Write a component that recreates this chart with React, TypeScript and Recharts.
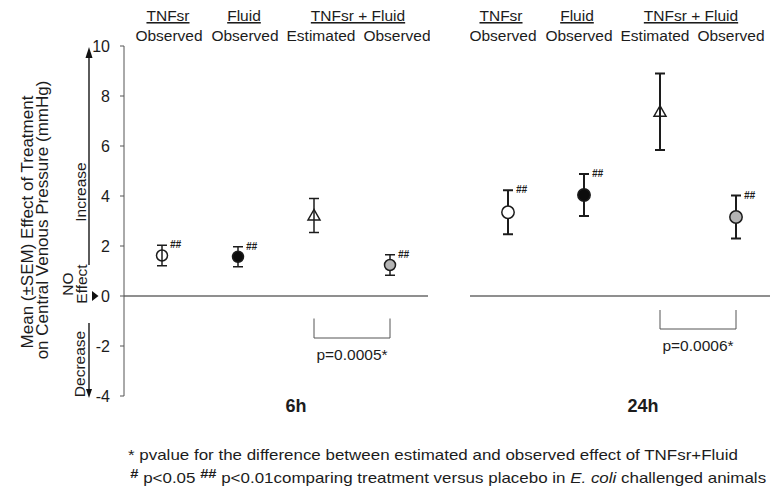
import React from 'react';
import { ComposedChart, Scatter, XAxis, YAxis, ErrorBar, ReferenceLine } from 'recharts';

// column labels under the group headings
const columns = ['Observed', 'Observed', 'Estimated', 'Observed'];
const headerLabels = ['TNFsr', 'Fluid', 'TNFsr + Fluid'];
const headerColumns = [[0], [1], [2, 3]];
const markerKinds = ['open', 'filled', 'triangle', 'grey'];
const significant = [true, true, false, true]; // ## p<0.01 vs placebo

// mean effect on CVP (mmHg) and SEM
const mean6h = [1.62, 1.57, 3.22, 1.24];
const sem6h = [0.41, 0.4, 0.68, 0.41];
const mean24h = [3.35, 4.04, 7.37, 3.16];
const sem24h = [0.88, 0.84, 1.53, 0.86];

const yTicks = [-4, -2, 0, 2, 4, 6, 8, 10];
const bracket6h = [-0.9, -1.68];
const bracket24h = [-0.56, -1.32];
const pValue6h = 'p=0.0005*';
const pValue24h = 'p=0.0006*';

const FONT = "'Liberation Sans', Arial, Helvetica, sans-serif";
const INK = '#1c1c1c';
const PLOT_W = 304;

const buildRows = (means: number[], sems: number[]) =>
  means.map((m, i) => ({ pos: i, mean: m, sem: sems[i], kind: markerKinds[i] }));

const buildSig = (means: number[], sems: number[]) =>
  means.map((m, i) => ({ pos: i, top: m + sems[i] })).filter((_, i) => significant[i]);

const headCenters = headerColumns.map((c) => c.reduce((a, b) => a + b, 0) / c.length);

const markerShape = (r: number, openFill: string) => (props: any) => {
  const { cx, cy, payload } = props;
  if (cx == null || cy == null) return <g />;
  if (payload.kind === 'triangle') {
    const pts = `${cx},${cy - 6} ${cx - 6},${cy + 4.5} ${cx + 6},${cy + 4.5}`;
    return <polygon points={pts} fill="none" stroke={INK} strokeWidth={1.5} />;
  }
  const fill = payload.kind === 'filled' ? '#0d0d0d' : payload.kind === 'grey' ? '#b4b4b4' : openFill;
  return <circle cx={cx} cy={cy} r={r} fill={fill} stroke={INK} strokeWidth={1.5} />;
};

const sigShape = (props: any) => {
  const { cx, cy } = props;
  if (cx == null || cy == null) return <g />;
  return (
    <text x={cx + 8} y={cy + 3} fontSize={10} fontWeight="bold" fontStyle="italic" fill={INK} fontFamily={FONT}>
      ##
    </text>
  );
};

const columnTick = (dx: number, headDx: number) => (p: any) => {
  const i = p.payload.value;
  const band = PLOT_W / columns.length;
  const h = headerColumns.findIndex((c) => c[0] === i);
  return (
    <g fontFamily={FONT} fontSize={15.5} fill={INK}>
      {h >= 0 && (
        <text x={p.x + headDx + (headCenters[h] - i) * band} y={21} textAnchor="middle" textDecoration="underline">
          {headerLabels[h]}
        </text>
      )}
      <text x={p.x + dx} y={41} textAnchor="middle">
        {columns[i]}
      </text>
    </g>
  );
};

type PanelProps = {
  means: number[];
  sems: number[];
  bracket: number[];
  pValue: string;
  showAxis: boolean;
  dx: number;
  headDx: number;
  barWidth: number;
  radius: number;
  openFill: string;
};

const Panel = ({ means, sems, bracket, pValue, showAxis, dx, headDx, barWidth, radius, openFill }: PanelProps) => {
  const rows = buildRows(means, sems);
  const sig = buildSig(means, sems);
  const axisW = showAxis ? 124 : 0;
  return (
    <ComposedChart
      width={PLOT_W + axisW + (showAxis ? 2 : 0)}
      height={420}
      margin={{ top: 0, right: showAxis ? 2 : 0, left: 0, bottom: 24 }}
    >
      <XAxis
        type="number"
        dataKey="pos"
        domain={[-0.5, 3.5]}
        ticks={[0, 1, 2, 3]}
        orientation="top"
        height={46}
        axisLine={false}
        tickLine={false}
        interval={0}
        tick={columnTick(dx, headDx)}
      />
      <YAxis
        type="number"
        domain={[-4, 10]}
        ticks={yTicks}
        interval={0}
        allowDataOverflow
        hide={!showAxis}
        width={124}
        stroke="#555"
        tickSize={4}
        tickMargin={10}
        tick={{ fontSize: 16, fill: INK, fontFamily: FONT }}
      />
      <ReferenceLine y={0} stroke="#6a6a6a" strokeWidth={1.5} />
      <ReferenceLine segment={[{ x: 2, y: bracket[0] }, { x: 2, y: bracket[1] }]} stroke="#555" />
      <ReferenceLine segment={[{ x: 3, y: bracket[0] }, { x: 3, y: bracket[1] }]} stroke="#555" />
      <ReferenceLine
        segment={[{ x: 2, y: bracket[1] }, { x: 3, y: bracket[1] }]}
        stroke="#555"
        label={{ value: pValue, position: 'bottom', offset: 11, fontSize: 15.5, fill: INK, fontFamily: FONT }}
      />
      <Scatter data={rows} dataKey="mean" shape={markerShape(radius, openFill)} isAnimationActive={false}>
        <ErrorBar dataKey="sem" direction="y" width={5} stroke={INK} strokeWidth={barWidth} />
      </Scatter>
      <Scatter data={sig} dataKey="top" shape={sigShape} isAnimationActive={false} />
    </ComposedChart>
  );
};

export default function App() {
  return (
    <div
      style={{
        position: 'absolute',
        left: 0,
        top: 0,
        width: 770,
        height: 497,
        overflow: 'hidden',
        background: '#fff',
        fontFamily: FONT,
      }}
    >
      <div style={{ position: 'absolute', left: 0, top: 0 }}>
        <Panel
          means={mean6h}
          sems={sem6h}
          bracket={bracket6h}
          pValue={pValue6h}
          showAxis
          dx={7}
          headDx={6}
          barWidth={1.5}
          radius={5.5}
          openFill="none"
        />
      </div>
      <div style={{ position: 'absolute', left: 470, top: 0 }}>
        <Panel
          means={mean24h}
          sems={sem24h}
          bracket={bracket24h}
          pValue={pValue24h}
          showAxis={false}
          dx={-5}
          headDx={-7}
          barWidth={2}
          radius={6.2}
          openFill="#fff"
        />
      </div>
      <svg width={770} height={497} style={{ position: 'absolute', left: 0, top: 0, pointerEvents: 'none' }} fontFamily={FONT}>
        {/* axis title */}
        <g fill={INK} fontSize={17} textAnchor="middle" dominantBaseline="central">
          <text transform="translate(27,222) rotate(-90)">Mean (±SEM) Effect of Treatment</text>
          <text transform="translate(42,220) rotate(-90)">on Central Venous Pressure (mmHg)</text>
        </g>
        {/* increase / no effect / decrease guide */}
        <g fill={INK} fontSize={15.5} textAnchor="middle" dominantBaseline="central">
          <text transform="translate(80,192) rotate(-90)">Increase</text>
          <text transform="translate(67,284) rotate(-90)">NO</text>
          <text transform="translate(81,284) rotate(-90)">Effect</text>
          <text transform="translate(79,364) rotate(-90)">Decrease</text>
        </g>
        <line x1={89} y1={265} x2={89} y2={56} stroke="#333" strokeWidth={1.6} />
        <polygon points="89,47 85.5,58 92.5,58" fill="#111" />
        <line x1={89} y1={323} x2={89} y2={390} stroke="#333" strokeWidth={1.6} />
        <polygon points="89,398 86,389 92,389" fill="#111" />
        <polygon points="92,291 92,301 98.5,296" fill="#111" />
        {/* time points */}
        <text x={296} y={412} textAnchor="middle" fontSize={18} fontWeight="bold" fill={INK}>6h</text>
        <text x={643} y={412} textAnchor="middle" fontSize={18} fontWeight="bold" fill={INK}>24h</text>
        {/* footnotes */}
        <g transform="translate(128,0) scale(1.13,1)" fill={INK} fontSize={15}>
          <text x={0} y={460}>
            * pvalue for the difference between estimated and observed effect of TNFsr+Fluid
          </text>
          <text x={2} y={483}>
            <tspan fontSize={13} fontWeight="bold" dy={-5}>#</tspan>
            <tspan dy={5}> p&lt;0.05 </tspan>
            <tspan fontSize={13} fontWeight="bold" dy={-5}>##</tspan>
            <tspan dy={5}> p&lt;0.01comparing treatment versus placebo in </tspan>
            <tspan fontStyle="italic">E. coli</tspan>
            <tspan> challenged animals</tspan>
          </text>
        </g>
      </svg>
    </div>
  );
}
